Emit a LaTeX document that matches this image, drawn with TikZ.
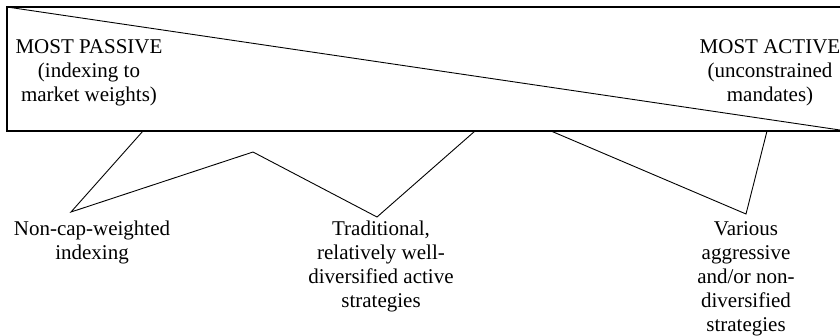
\documentclass[tikz,border=0pt]{standalone}
\usepackage{fontspec}
\setmainfont{Liberation Serif}
\tikzset{
  frame/.style={line width=1.3pt, line join=miter},
  callout/.style={line width=0.9pt, line join=miter},
  lbl/.style={font=\fontsize{21pt}{24pt}\selectfont, align=center, inner sep=0pt, anchor=base}
}
\begin{document}
\begin{tikzpicture}[x=1pt,y=-1pt]
\useasboundingbox (0,0) rectangle (840,335);
% frame corners
\coordinate (tl) at (7,7);
\coordinate (bl) at (7,131);
\coordinate (tr) at (845,7);
\coordinate (br) at (845,131);
\coordinate (dg) at (840,130);
% callout points
\coordinate (a1) at (143,131);
\coordinate (t1) at (71,212);
\coordinate (pk) at (253,152);
\coordinate (t2) at (377,217);
\coordinate (a2) at (475,131);
\coordinate (a3) at (551,131);
\coordinate (t3) at (746,214);
\coordinate (a4) at (767,131);
% frame
\draw[frame] (tr) -- (tl) -- (bl) -- (br);
\draw[callout] (tl) -- (dg);
% callouts
\draw[callout] (a1) -- (t1) -- (pk) -- (t2) -- (a2);
\draw[callout] (a3) -- (t3) -- (a4);
% labels (anchor = baseline of the last line)
\node[lbl] (passive) at (89,101) {MOST PASSIVE\\(indexing to\\market weights)};
\node[lbl] (active) at (770,101) {MOST ACTIVE\\(unconstrained\\mandates)};
\node[lbl] (noncap) at (92,259) {Non-cap-weighted\\indexing};
\node[lbl] (trad) at (381,307) {Traditional,\\relatively well-\\diversified active\\strategies};
\node[lbl] (various) at (746,331) {Various\\aggressive\\and/or non-\\diversified\\strategies};
\end{tikzpicture}
\end{document}
